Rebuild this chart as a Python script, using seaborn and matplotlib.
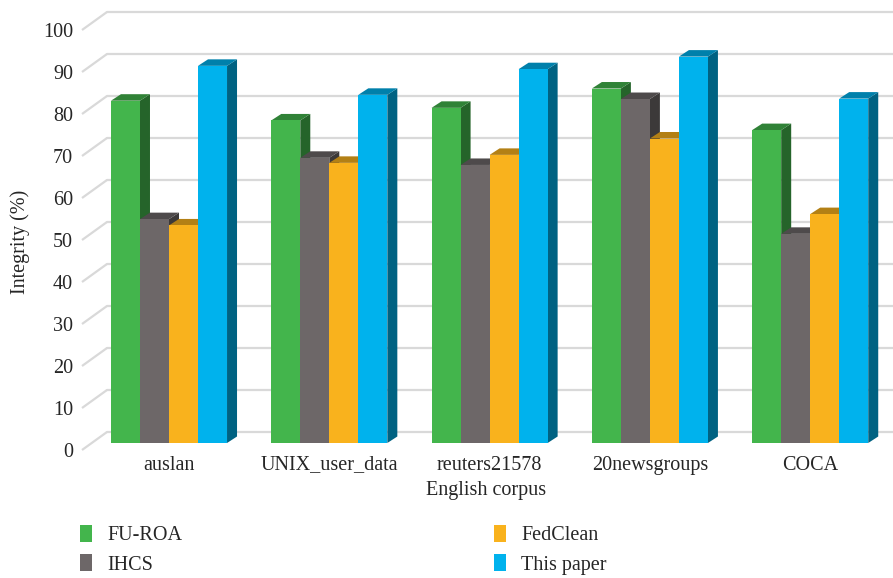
import numpy as np
import pandas as pd
import seaborn as sns
import matplotlib.pyplot as plt
from matplotlib.patches import Polygon, Patch
from matplotlib.transforms import ScaledTranslation
from matplotlib.colors import to_rgb

# data
corpora = ["auslan", "UNIX_user_data", "reuters21578", "20newsgroups", "COCA"]
methods = ["FU-ROA", "IHCS", "FedClean", "This paper"]
fu_roa = [81.5, 76.8, 79.8, 84.4, 74.5]
ihcs = [53.3, 67.9, 66.2, 81.9, 49.8]
fedclean = [51.8, 66.7, 68.6, 72.5, 54.5]
this_paper = [89.8, 82.9, 89.0, 92.0, 82.0]
yticks = [0, 10, 20, 30, 40, 50, 60, 70, 80, 90, 100]

colors = ["#43b54c", "#6d6768", "#f9b21d", "#00b2ed"]

df = pd.DataFrame({
    "corpus": corpora * 4,
    "method": np.repeat(methods, len(corpora)),
    "value": fu_roa + ihcs + fedclean + this_paper,
})

sns.set_style("white")
plt.rcParams["font.family"] = ["Liberation Serif", "DejaVu Serif"]
FS = 14.5
TXT = "#262626"

fig = plt.figure(figsize=(8.93, 5.78), dpi=100)
W, H = 893, 578
# axes placed in pixel coords: left 80, right 893, top 5, bottom 450
ax = fig.add_axes([80 / W, 1 - 450 / H, (893 - 80) / W, (450 - 5) / H])

sns.barplot(data=df, x="corpus", y="value", hue="method", palette=colors,
            width=0.724, saturation=1, gap=0, legend=False, ax=ax,
            edgecolor="none", linewidth=0, errorbar=None)

px_x = 160.3  # pixels per category
px_y = 4.2    # pixels per unit
ax.set_xlim(-(169 - 80) / px_x, (893 - 169) / px_x)
ax.set_ylim(-(450 - 443) / px_y, (443 - 5) / px_y)

# fake 3d depth of the bars
dx = 10 / px_x
dy = 6.5 / px_y

def shade(c, f):
    r, g, b = to_rgb(c)
    return (r * f, g * f, b * f)

bars = sorted(ax.patches, key=lambda p: p.get_x())
for i, p in enumerate(bars):
    x0, w, h = p.get_x(), p.get_width(), p.get_height()
    fc = p.get_facecolor()
    side = Polygon([(x0 + w, 0), (x0 + w + dx, dy), (x0 + w + dx, h + dy), (x0 + w, h)],
                   closed=True, facecolor=shade(fc, 0.55), edgecolor="none", zorder=3 + 2 * i)
    top = Polygon([(x0, h), (x0 + dx, h + dy), (x0 + w + dx, h + dy), (x0 + w, h)],
                  closed=True, facecolor=shade(fc, 0.72), edgecolor="none", zorder=3 + 2 * i)
    ax.add_patch(side)
    ax.add_patch(top)
    p.set_zorder(4 + 2 * i)

# back wall gridlines and slanted connectors
gx0 = (82 - 169) / px_x
gx1 = (107 - 169) / px_x
back = (443 - 432) / px_y
front = -(450 - 443) / px_y
for v in yticks:
    ax.plot([gx0, gx1], [v + front, v + back], color="#d9d9d9", lw=1.6,
            zorder=1, clip_on=False, solid_capstyle="butt")
    ax.plot([gx1, 4.6], [v + back, v + back], color="#d9d9d9", lw=1.6,
            zorder=1, clip_on=False)

sns.despine(ax=ax, left=True, bottom=True)
ax.set_yticks(yticks)
ax.set_yticklabels([str(v) for v in yticks], fontsize=FS, color=TXT)
ax.tick_params(axis="y", length=0, pad=5)
ax.tick_params(axis="x", length=0, pad=4, labelsize=FS, labelcolor=TXT)
for lbl in ax.get_yticklabels():
    lbl.set_transform(lbl.get_transform() + ScaledTranslation(0, -0.07, fig.dpi_scale_trans))

ax.set_xlabel("English corpus", fontsize=FS, color=TXT, labelpad=5)
ax.set_ylabel("")
fig.text(20 / W, 1 - 242 / H, "Integrity (%)", rotation=90, fontsize=FS,
         color=TXT, ha="center", va="center")
ax.grid(False)

handles = [Patch(facecolor=c, edgecolor="none") for c in colors]
leg_kw = dict(frameon=False, fontsize=FS, handlelength=0.6, handleheight=0.9,
              handletextpad=0.75, labelspacing=0.45, borderpad=0, borderaxespad=0,
              loc="upper left", labelcolor=TXT)
fig.legend(handles[:2], methods[:2], bbox_to_anchor=(80 / W, 1 - 525 / H), **leg_kw)
fig.legend(handles[2:], methods[2:], bbox_to_anchor=(494 / W, 1 - 525 / H), **leg_kw)

fig.savefig("out.png", dpi=100)
